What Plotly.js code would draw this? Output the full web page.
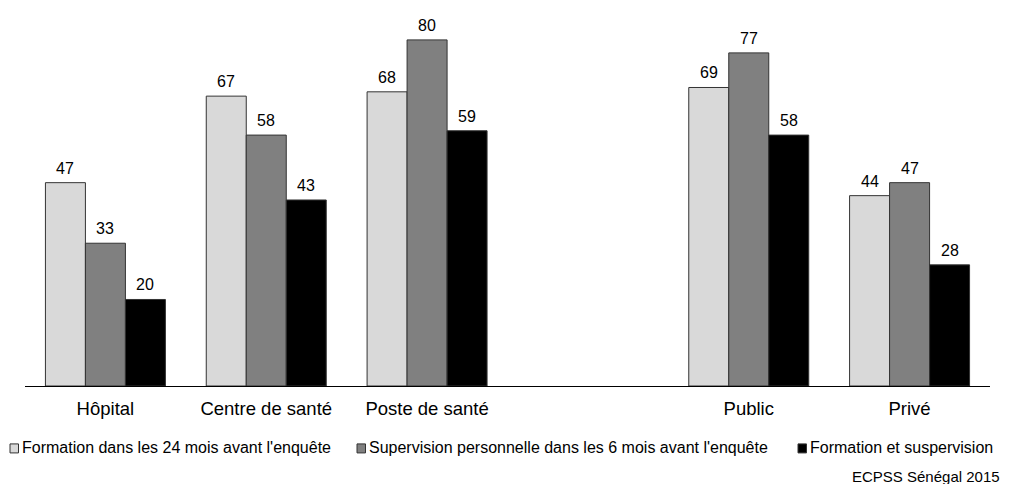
<!DOCTYPE html>
<html>
<head>
<meta charset="utf-8">
<script src="https://cdn.plot.ly/plotly-3.0.1.min.js"></script>
<style>html,body{margin:0;padding:0;background:#fff;}#chart{width:1018px;height:484px;}</style>
</head>
<body>
<div id="chart"></div>
<script>
const categories = ["Hôpital", "Centre de santé", "Poste de santé", " ", "Public", "Privé"];
const seriesNames = [
  "Formation dans les 24 mois avant l'enquête",
  "Supervision personnelle dans les 6 mois avant l'enquête",
  "Formation et suspervision"
];
const formation = [47, 67, 68, null, 69, 44];
const supervision = [33, 58, 80, null, 77, 47];
const formationSupervision = [20, 43, 59, null, 58, 28];
const seriesColors = ["#d9d9d9", "#808080", "#000000"];
const sourceText = "ECPSS Sénégal 2015";

const FONT = "Liberation Sans, Arial, sans-serif";
const W = 1018, H = 484;
const mL = 25, mR = 28, mT = 20, mB = 97.5;
const plotW = W - mL - mR, plotH = H - mT - mB;
const px2x = p => (p - mL) / plotW;
const py2y = p => (H - mB - p) / plotH;
const BARGAP = 0.254;
const barPx = plotW / categories.length * (1 - BARGAP) / seriesNames.length;

const values = [formation, supervision, formationSupervision];
const traces = values.map((v, i) => ({
  type: "bar",
  name: seriesNames[i],
  x: categories,
  y: v,
  marker: {color: seriesColors[i], line: {color: "#333333", width: 1}},
  showlegend: false,
  hoverinfo: "none"
}));

const shapes = [];
const annotations = [];
// value labels above bars
values.forEach((v, i) => {
  v.forEach((d, j) => {
    if (d == null) return;
    annotations.push({
      xref: "x", yref: "y", x: categories[j], y: d,
      xshift: (i - 1) * barPx, yshift: 4,
      xanchor: "center", yanchor: "bottom", showarrow: false,
      text: String(d), font: {family: FONT, size: 16, color: "#000"}
    });
  });
});

// legend built from series names and colors
const legendX = [10, 357, 798];
const legendY = 449;
seriesNames.forEach((n, i) => {
  shapes.push({
    type: "rect", xref: "paper", yref: "paper",
    xsizemode: "pixel", ysizemode: "pixel",
    xanchor: px2x(legendX[i]), yanchor: py2y(legendY),
    x0: 0, x1: 8.5, y0: -4.5, y1: 4.5,
    fillcolor: seriesColors[i], line: {color: "#333333", width: 1}
  });
  annotations.push({
    xref: "paper", yref: "paper", x: px2x(legendX[i] + 9.5), y: py2y(legendY - 0.5),
    xanchor: "left", yanchor: "middle", showarrow: false,
    text: n, font: {family: FONT, size: 16, color: "#000"}
  });
});
annotations.push({
  xref: "paper", yref: "paper", x: px2x(1002), y: py2y(477),
  xanchor: "right", yanchor: "middle", showarrow: false,
  text: sourceText, font: {family: FONT, size: 15, color: "#000"}
});

const layout = {
  width: W, height: H,
  margin: {l: mL, r: mR, t: mT, b: mB, pad: 0},
  paper_bgcolor: "#fff", plot_bgcolor: "#fff",
  barmode: "group", bargap: BARGAP, bargroupgap: 0,
  font: {family: FONT, color: "#000"},
  xaxis: {
    type: "category", showline: true, linecolor: "#000", linewidth: 1,
    ticks: "", showgrid: false, zeroline: false, ticklabelstandoff: 6,
    tickfont: {family: FONT, size: 18.5, color: "#000"}
  },
  yaxis: {
    range: [0, 84.6], visible: false, showgrid: false, zeroline: false
  },
  showlegend: false,
  shapes: shapes,
  annotations: annotations
};

Plotly.newPlot("chart", traces, layout, {displayModeBar: false, staticPlot: true});
</script>
</body>
</html>
